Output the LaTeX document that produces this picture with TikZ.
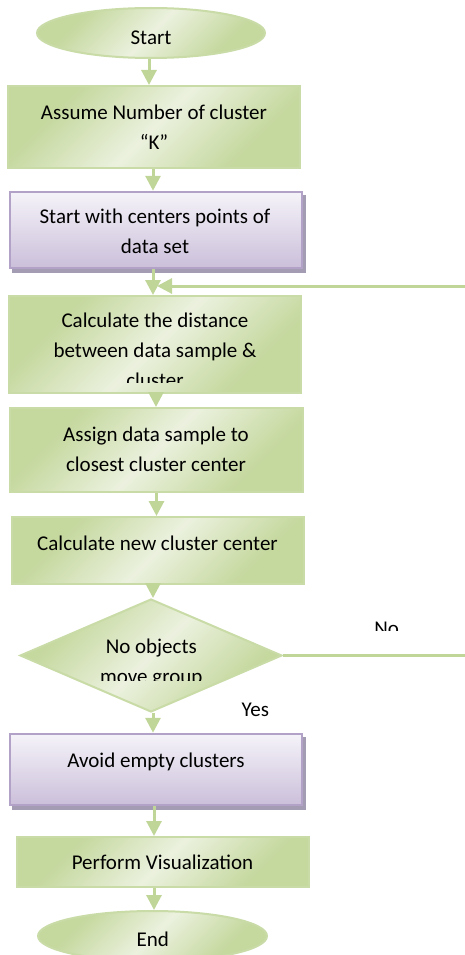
\documentclass[tikz,border=0pt]{standalone}
\usepackage{fontspec}
\setmainfont{Carlito}
\usetikzlibrary{shapes.geometric,arrows.meta}

\definecolor{gdark}{HTML}{C5D89E}
\definecolor{glight}{HTML}{EBF1DE}
\definecolor{gline}{HTML}{C9DBA6}
\definecolor{garrow}{HTML}{C0D598}
\definecolor{ptop}{HTML}{F5F3F9}
\definecolor{pbot}{HTML}{CBBFDA}
\definecolor{pline}{HTML}{B2A2C7}
\definecolor{pshadow}{HTML}{A39CB2}

% soft diagonal fill: darker corners, light middle
\pgfdeclarehorizontalshading{greendiag}{100bp}{color(0bp)=(gdark); color(28bp)=(gdark); color(50bp)=(glight); color(72bp)=(gdark); color(100bp)=(gdark)}

\newcommand{\fl}{\rule{0pt}{16pt}}

\tikzset{
  gbox/.style={draw=gline, line width=2pt, shading=greendiag, shading angle=-45, inner sep=0pt},
  pbox/.style={draw=pline, line width=2.5pt, top color=ptop, bottom color=pbot, inner sep=0pt,
    preaction={fill=pshadow, draw=pshadow, transform canvas={shift={(3pt,-4pt)}}}},
  term/.style={gbox, ellipse, minimum width=228pt, minimum height=50pt},
  decide/.style={gbox, diamond, minimum width=262pt, minimum height=113pt},
  txt/.style={inner sep=0pt, align=center, anchor=north, font=\fontsize{21}{30}\selectfont},
  arr/.style={draw=garrow, line width=3pt, -{Triangle[width=15pt,length=15pt]}},
}

\begin{document}
\begin{tikzpicture}[x=1pt,y=-1pt]
\useasboundingbox (0,0) rectangle (465,955);
\clip (0,0) rectangle (465,955);

% shapes
\node[term] (start) at (151,33) {};
\node[gbox, minimum width=292pt, minimum height=82pt] (k) at (154,127) {};
\node[pbox, minimum width=292pt, minimum height=76pt] (centers) at (156,230) {};
\node[gbox, minimum width=292pt, minimum height=97pt] (dist) at (155,344.5) {};
\node[gbox, minimum width=293pt, minimum height=84pt] (assign) at (156.5,450) {};
\node[gbox, minimum width=292pt, minimum height=67pt] (newc) at (158,550.5) {};
\node[decide] (dec) at (151,655.5) {};
\node[pbox, minimum width=292pt, minimum height=71pt] (avoid) at (156,769.5) {};
\node[gbox, minimum width=292pt, minimum height=50pt] (vis) at (163,862) {};
\node[term, minimum width=229pt] (stop) at (152.5,936) {};

% texts
\node[txt] (start-t) at (151,28.3) {\fl Start};
\node[txt] (k-t) at (154,103.3) {\fl Assume Number of cluster\\“K”};
\node[txt] (centers-t) at (155,207.3) {\fl Start with centers points of\\data set};
\begin{scope}
  \clip (0,296) rectangle (465,382.7);
  \node[txt] (dist-t) at (155,311.3) {\fl Calculate the distance\\between data sample \&\\cluster};
\end{scope}
\node[txt] (assign-t) at (156,425) {\fl Assign data sample to\\closest cluster center};
\node[txt] (newc-t) at (157.5,534) {\fl Calculate new cluster center};
\begin{scope}
  \clip (0,600) rectangle (300,680.5);
  \node[txt] (dec-t) at (151.3,637) {\fl No objects\\move group};
\end{scope}
\begin{scope}
  \clip (300,600) rectangle (465,630);
  \node[txt] (no) at (386.7,619.6) {\fl No};
\end{scope}
\node[txt] (yes) at (255.3,700) {\fl Yes};
\node[txt] (avoid-t) at (156,751) {\fl Avoid empty clusters};
\node[txt] (vis-t) at (162.5,853.3) {\fl Perform Visualization};
\node[txt] (stop-t) at (152.8,930.7) {\fl End};

% connectors
\draw[arr] ([xshift=-2pt]start.south) -- ([xshift=-2pt]start.south |- k.north);
\draw[arr] ([xshift=-1pt]k.south) -- ([xshift=-1pt]k.south |- centers.north);
\draw[arr] ([xshift=-3pt]centers.south) -- ([xshift=-3pt]centers.south |- dist.north);
\draw[arr] ([xshift=1pt]dist.south) -- ([xshift=1pt]dist.south |- assign.north);
\draw[arr] (assign.south) -- (assign.south |- newc.north);
\draw[arr] ([xshift=-5pt]newc.south) -- ([xshift=-5pt]newc.south |- dec.north);
\draw[arr] ([xshift=2pt]dec.south) -- ([xshift=2pt]dec.south |- avoid.north);
\draw[arr] ([xshift=-2pt]avoid.south) -- ([xshift=-2pt]avoid.south |- vis.north);
\draw[arr] ([xshift=-9pt]vis.south) -- ([xshift=-9pt]vis.south |- stop.north);

% loop back when objects still move
\coordinate (join) at (157,286);
\draw[arr] (dec.east) -- (475,655.5) -- (475,286) -- (join);
\end{tikzpicture}
\end{document}
